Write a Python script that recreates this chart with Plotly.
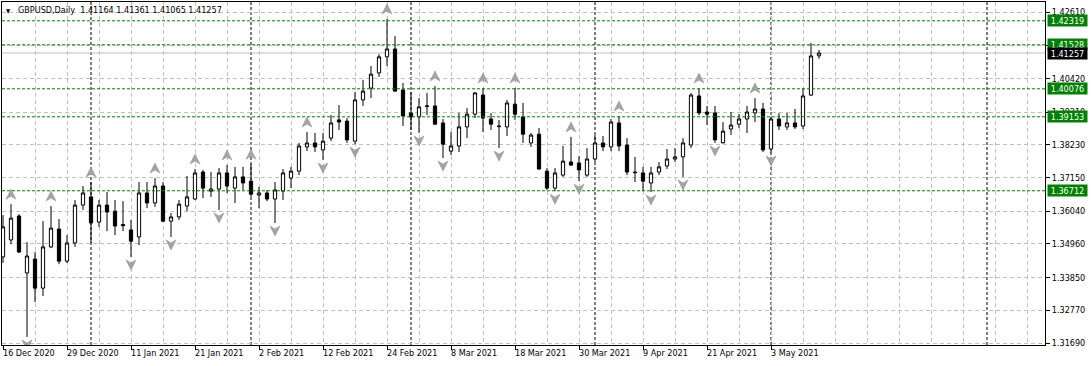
import plotly.graph_objects as go

# ---------------- data (GBPUSD Daily) ----------------
bar_idx = list(range(103))  # trading-day index, 0 = 16 Dec 2020

opens = [1.3453, 1.3509, 1.3588, 1.3400, 1.3446, 1.3350, 1.3486, 1.3545, 1.3439, 1.3499,
         1.3624, 1.3651, 1.3568, 1.3624, 1.3604, 1.3560, 1.3542, 1.3519, 1.3664, 1.3631,
         1.3687, 1.3571, 1.3585, 1.3621, 1.3644, 1.3733, 1.3670, 1.3677, 1.3730, 1.3680,
         1.3717, 1.3703, 1.3657, 1.3664, 1.3644, 1.3670, 1.3713, 1.3736, 1.3816, 1.3829,
         1.3806, 1.3845, 1.3905, 1.3901, 1.3835, 1.3971, 1.4010, 1.4060, 1.4113, 1.4139,
         1.4004, 1.3928, 1.3915, 1.3949, 1.3951, 1.3895, 1.3802, 1.3819, 1.3882, 1.3924,
         1.3987, 1.3908, 1.3885, 1.3882, 1.3957, 1.3915, 1.3829, 1.3858, 1.3736, 1.3680,
         1.3723, 1.3766, 1.3763, 1.3723, 1.3776, 1.3829, 1.3816, 1.3895, 1.3822, 1.3733,
         1.3730, 1.3697, 1.3733, 1.3753, 1.3776, 1.3783, 1.3822, 1.3984, 1.3931, 1.3928,
         1.3829, 1.3875, 1.3891, 1.3908, 1.3928, 1.3941, 1.3809, 1.3908, 1.3882, 1.3895,
         1.3885, 1.3987, 1.41164]

highs = [1.3591, 1.3627, 1.3594, 1.3502, 1.3469, 1.3571, 1.3621, 1.3578, 1.3525, 1.3641,
         1.3687, 1.3700, 1.3641, 1.3667, 1.3641, 1.3637, 1.3575, 1.3700, 1.3700, 1.3713,
         1.3700, 1.3598, 1.3641, 1.3720, 1.3743, 1.3740, 1.3733, 1.3746, 1.3756, 1.3750,
         1.3750, 1.3759, 1.3684, 1.3674, 1.3700, 1.3743, 1.3750, 1.3829, 1.3865, 1.3862,
         1.3862, 1.3921, 1.3954, 1.3911, 1.3997, 1.4037, 1.4083, 1.4122, 1.4238, 1.4182,
         1.4027, 1.3997, 1.3977, 1.3994, 1.4017, 1.3908, 1.3865, 1.3928, 1.3944, 1.3997,
         1.4010, 1.3928, 1.3905, 1.3971, 1.4010, 1.3961, 1.3862, 1.3878, 1.3746, 1.3746,
         1.3819, 1.3849, 1.3786, 1.3812, 1.3855, 1.3852, 1.3908, 1.3918, 1.3845, 1.3783,
         1.3750, 1.3750, 1.3766, 1.3809, 1.3812, 1.3845, 1.3994, 1.4010, 1.3951, 1.3951,
         1.3898, 1.3931, 1.3924, 1.3951, 1.3977, 1.3961, 1.3915, 1.3928, 1.3928, 1.3941,
         1.4010, 1.4159, 1.41361]

lows = [1.3433, 1.3495, 1.3466, 1.3189, 1.3304, 1.3324, 1.3482, 1.3429, 1.3433, 1.3486,
        1.3608, 1.3499, 1.3552, 1.3538, 1.3525, 1.3538, 1.3453, 1.3492, 1.3614, 1.3618,
        1.3568, 1.3519, 1.3575, 1.3604, 1.3641, 1.3647, 1.3651, 1.3608, 1.3664, 1.3631,
        1.3674, 1.3651, 1.3614, 1.3637, 1.3565, 1.3641, 1.3680, 1.3723, 1.3802, 1.3799,
        1.3773, 1.3835, 1.3872, 1.3829, 1.3825, 1.3951, 1.3977, 1.4047, 1.4083, 1.3997,
        1.3885, 1.3872, 1.3862, 1.3921, 1.3888, 1.3779, 1.3789, 1.3799, 1.3845, 1.3911,
        1.3865, 1.3872, 1.3812, 1.3852, 1.3905, 1.3829, 1.3816, 1.3740, 1.3674, 1.3670,
        1.3717, 1.3753, 1.3703, 1.3717, 1.3766, 1.3802, 1.3802, 1.3802, 1.3723, 1.3700,
        1.3670, 1.3667, 1.3723, 1.3743, 1.3766, 1.3717, 1.3812, 1.3921, 1.3888, 1.3829,
        1.3832, 1.3855, 1.3878, 1.3862, 1.3898, 1.3799, 1.3796, 1.3872, 1.3872, 1.3875,
        1.3875, 1.3984, 1.41065]

closes = [1.3552, 1.3581, 1.3469, 1.3456, 1.3350, 1.3486, 1.3548, 1.3439, 1.3499, 1.3624,
          1.3664, 1.3565, 1.3624, 1.3601, 1.3555, 1.3556, 1.3505, 1.3664, 1.3631, 1.3687,
          1.3571, 1.3585, 1.3627, 1.3651, 1.3730, 1.3680, 1.3677, 1.3730, 1.3687, 1.3717,
          1.3697, 1.3660, 1.3664, 1.3644, 1.3674, 1.3730, 1.3736, 1.3819, 1.3829, 1.3816,
          1.3835, 1.3895, 1.3898, 1.3839, 1.3971, 1.4000, 1.4056, 1.4113, 1.4139, 1.4000,
          1.3918, 1.3915, 1.3948, 1.3951, 1.3891, 1.3825, 1.3819, 1.3882, 1.3924, 1.3994,
          1.3911, 1.3891, 1.3883, 1.3961, 1.3924, 1.3858, 1.3855, 1.3743, 1.3680, 1.3730,
          1.3769, 1.3756, 1.3740, 1.3776, 1.3829, 1.3816, 1.3898, 1.3819, 1.3733, 1.3731,
          1.3703, 1.3730, 1.3750, 1.3776, 1.3783, 1.3829, 1.3987, 1.3928, 1.3924, 1.3839,
          1.3868, 1.3888, 1.3908, 1.3931, 1.3941, 1.3806, 1.3908, 1.3885, 1.3895, 1.3882,
          1.3984, 1.4116, 1.41257]

# Bill Williams fractals (bar indices)
up_fractals = [1, 6, 11, 19, 24, 28, 31, 38, 48, 54, 60, 64, 71, 77, 87, 94]
down_fractals = [3, 16, 21, 27, 34, 40, 44, 52, 55, 62, 69, 72, 81, 85, 89, 96]

# date labels on the time axis
date_tick_idx = [0, 8, 16, 24, 32, 40, 48, 56, 64, 72, 80, 88, 96]
date_tick_labels = ["16 Dec 2020", "29 Dec 2020", "11 Jan 2021", "21 Jan 2021", "2 Feb 2021",
                    "12 Feb 2021", "24 Feb 2021", "8 Mar 2021", "18 Mar 2021", "30 Mar 2021",
                    "9 Apr 2021", "21 Apr 2021", "3 May 2021"]

# monthly period separators (bar index of first bar of month)
month_sep_idx = [11, 31, 51, 74, 96, 123]

# price scale
price_ticks = [1.42610, 1.41510, 1.40420, 1.39310, 1.38230, 1.37150,
               1.36040, 1.34960, 1.33850, 1.32770, 1.31690]

# horizontal line objects and current bid
h_levels = [1.42319, 1.41528, 1.40076, 1.39153, 1.36712]
bid_price = 1.41257

header = "GBPUSD,Daily\u00a0\u00a0" + " ".join(f"{v:.5f}" for v in [opens[-1], highs[-1], lows[-1], closes[-1]])

# ---------------- style ----------------
FONT = "DejaVu Sans Condensed, DejaVu Sans, sans-serif"
W, H = 1091, 366
M = dict(l=2, r=46, t=2, b=21)
Y_RANGE = [1.31624, 1.42940]
X_RANGE = [-0.125, 130.25]
GRID = "#c0c0c0"
GREEN = "#008000"

fig = go.Figure()
fig.add_trace(go.Candlestick(
    x=bar_idx, open=opens, high=highs, low=lows, close=closes,
    increasing=dict(line=dict(color="#000000", width=1), fillcolor="#ffffff"),
    decreasing=dict(line=dict(color="#000000", width=1), fillcolor="#000000"),
    whiskerwidth=0, showlegend=False, hoverinfo="skip",
))

shapes = []
for s in month_sep_idx:
    shapes.append(dict(type="line", xref="x", yref="paper", x0=s, x1=s, y0=0, y1=1,
                       line=dict(color="#000000", width=1, dash="3px,2px"), layer="between"))
shapes.append(dict(type="line", xref="paper", yref="y", x0=0, x1=1, y0=bid_price, y1=bid_price,
                   line=dict(color=GRID, width=1), layer="between"))
for lv in h_levels:
    shapes.append(dict(type="line", xref="paper", yref="y", x0=0, x1=1, y0=lv, y1=lv,
                       line=dict(color=GREEN, width=1, dash="3px,2px"), layer="above"))
for i in up_fractals:
    shapes.append(dict(type="path", xref="x", yref="y", xsizemode="pixel", ysizemode="pixel",
                       xanchor=i, yanchor=highs[i], path="M-5,5 L0,15 L5,5 L0,8 Z",
                       fillcolor="#a4a4a4", line=dict(color="#8a8a8a", width=0.5), layer="above"))
for i in down_fractals:
    shapes.append(dict(type="path", xref="x", yref="y", xsizemode="pixel", ysizemode="pixel",
                       xanchor=i, yanchor=lows[i], path="M-5,-3 L0,-13 L5,-3 L0,-6 Z",
                       fillcolor="#a4a4a4", line=dict(color="#8a8a8a", width=0.5), layer="above"))

annotations = []
for pos, lab in zip(date_tick_idx, date_tick_labels):
    annotations.append(dict(x=pos, xref="x", y=0, yref="paper", text=lab, showarrow=False,
                            xanchor="left", yanchor="top", xshift=-2, yshift=-1,
                            font=dict(family=FONT, size=9, color="#000000")))
for lv in h_levels:
    annotations.append(dict(x=1, xref="paper", y=lv, yref="y", text=f"{lv:.5f}", showarrow=False,
                            xanchor="left", yanchor="middle", xshift=2, bgcolor=GREEN,
                            borderpad=0, width=39, height=11,
                            font=dict(family=FONT, size=9, color="#ffffff")))
annotations.append(dict(x=1, xref="paper", y=bid_price, yref="y", text=f"{bid_price:.5f}",
                        showarrow=False, xanchor="left", yanchor="middle", xshift=2,
                        bgcolor="#000000", borderpad=0, width=39, height=11,
                        font=dict(family=FONT, size=9, color="#ffffff")))
annotations.append(dict(x=0, xref="paper", y=1, yref="paper", text="\u25bc", showarrow=False,
                        xanchor="left", yanchor="top", xshift=2, yshift=-3,
                        font=dict(family=FONT, size=6, color="#000000")))
annotations.append(dict(x=0, xref="paper", y=1, yref="paper", text=header, showarrow=False,
                        xanchor="left", yanchor="top", xshift=14, yshift=-1,
                        font=dict(family=FONT, size=9, color="#000000")))

fig.update_layout(
    width=W, height=H, margin=M,
    paper_bgcolor="#ffffff", plot_bgcolor="#ffffff",
    boxgap=0.42,
    showlegend=False,
    shapes=shapes, annotations=annotations,
    xaxis=dict(
        range=X_RANGE, rangeslider=dict(visible=False),
        tickmode="array", tickvals=date_tick_idx, ticktext=[""] * len(date_tick_idx),
        ticks="outside", ticklen=4, tickcolor="#000000", tickwidth=1,
        showgrid=True, gridcolor=GRID, griddash="4px,3px", gridwidth=1,
        minor=dict(tickmode="linear", tick0=0, dtick=4, showgrid=True, gridcolor=GRID,
                   griddash="4px,3px", gridwidth=1, ticks=""),
        showline=True, linecolor="#000000", linewidth=1, mirror=True, zeroline=False,
        fixedrange=True,
    ),
    yaxis=dict(
        range=Y_RANGE, side="right",
        tickmode="array", tickvals=price_ticks, ticktext=[f"{v:.5f}" for v in price_ticks],
        ticks="outside", ticklen=4, tickcolor="#000000", tickwidth=1,
        tickfont=dict(family=FONT, size=9, color="#000000"),
        showgrid=True, gridcolor=GRID, griddash="4px,3px", gridwidth=1,
        showline=True, linecolor="#000000", linewidth=1, mirror=True, zeroline=False,
        fixedrange=True,
    ),
)

fig.write_html("out.html")
